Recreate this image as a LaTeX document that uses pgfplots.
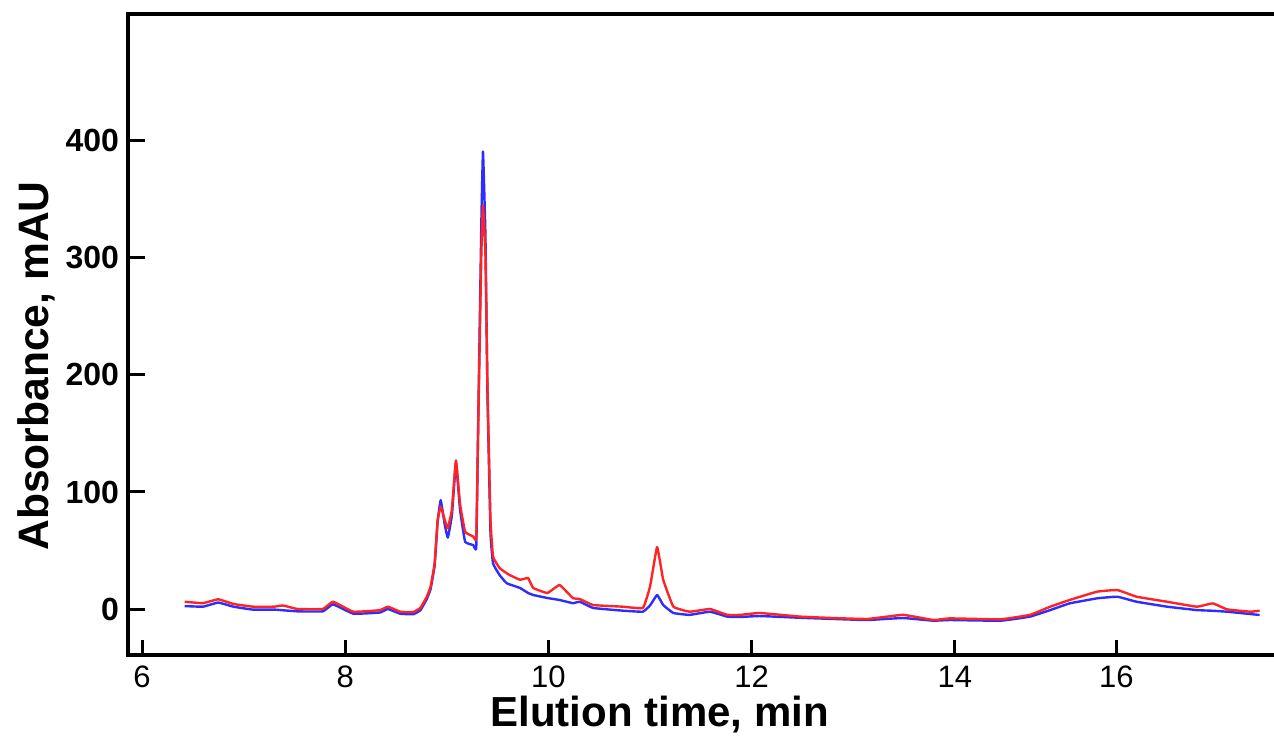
\documentclass[border=0pt]{standalone}
\usepackage{pgfplots}
\pgfplotsset{compat=1.18}
\usepackage{fontspec}
\setmainfont{Liberation Sans}

\definecolor{trBlue}{RGB}{45,45,255}
\definecolor{trRed}{RGB}{255,35,35}

\begin{document}
\begin{tikzpicture}
\useasboundingbox (0,0) rectangle (637pt,374.5pt);
\begin{axis}[
    at={(64pt,47pt)}, anchor=south west,
    width=573pt, height=320.5pt, scale only axis,
    xmin=5.862, xmax=17.142,
    ymin=-39.3, ymax=508.5,
    axis lines*=left,
    axis line style={line width=2pt, line cap=rect},
    clip=false,
    tick align=inside,
    xtick={6,8,10,12,14,15.59},
    xticklabels={6,8,10,12,14,16},
    ytick={0,100,200,300,400},
    x tick style={line width=1.5pt, black},
    y tick style={line width=1.5pt, black},
    xtick style={/pgfplots/major tick length=7.5pt},
    ytick style={/pgfplots/major tick length=8.5pt},
    /pgf/number format/assume math mode=true,
    x tick label style={font=\fontsize{15.5}{16}\selectfont, yshift=-2pt},
    y tick label style={font=\bfseries\fontsize{16}{17}\selectfont, xshift=-1pt},
    xlabel={Elution time, min},
    ylabel={Absorbance, mAU},
    every axis x label/.style={at={(axis description cs:0.464,-0.1123)}, anchor=base,
        font=\bfseries\fontsize{21}{24}\selectfont},
    every axis y label/.style={at={(axis description cs:-0.0698,0.451)}, anchor=base, rotate=90,
        font=\bfseries\fontsize{21.3}{24}\selectfont},
]
% top frame line
\draw[line width=2pt] (rel axis cs:0,1) -- (rel axis cs:1,1);

\addplot[color=trBlue, line width=1.2pt, line join=round, smooth, tension=0.18] coordinates {
(6.42,2.5)(6.60,2)(6.75,5.5)(6.90,2)(7.09,-0.5)(7.30,-0.5)(7.53,-2)(7.78,-2)
(7.88,4)(8.08,-4)(8.34,-3)(8.42,0)(8.54,-4)(8.67,-4.5)(8.74,-1)(8.80,8)
(8.84,17)(8.88,37)(8.91,75)(8.94,93)(8.98,72)(9.01,61)(9.05,80)(9.09,125)
(9.13,85)(9.18,57.5)(9.26,54.7)(9.29,53)(9.31,165)(9.34,330)(9.356,391)(9.38,320)
(9.40,185)(9.43,65)(9.455,39)(9.52,29)(9.59,22)(9.72,18)(9.80,13.7)(9.85,12)
(9.99,9.4)(10.11,7.7)(10.24,5)(10.31,6.2)(10.44,0.9)(10.73,-1.4)(10.93,-2.3)(11.00,3)
(11.07,12)(11.13,3.4)(11.23,-3.4)(11.39,-5)(11.59,-2.3)(11.76,-6.5)(11.89,-6.8)(12.08,-6)
(12.48,-7.5)(12.80,-8.5)(13.14,-9.4)(13.49,-7.7)(13.79,-10)(13.95,-9.4)(14.45,-10)(14.74,-6.5)
(14.94,-0.9)(15.13,4.8)(15.40,9.1)(15.60,10.5)(15.79,6.2)(16.09,2)(16.38,-0.9)(16.54,-1.5)
(16.68,-2.3)(16.91,-4.3)(17.00,-5.1)
};

\addplot[color=trRed, line width=1.2pt, line join=round, smooth, tension=0.18] coordinates {
(6.42,6.2)(6.60,5)(6.75,8.3)(6.90,4.3)(7.09,2)(7.30,2)(7.39,3)(7.53,0)
(7.78,0)(7.88,6.2)(8.08,-2.3)(8.34,-1)(8.42,2)(8.54,-2.3)(8.67,-2.6)(8.74,1)
(8.80,10)(8.84,19)(8.88,39)(8.91,76)(8.94,87.5)(8.98,76)(9.01,69)(9.05,85)
(9.09,127)(9.13,90)(9.18,66)(9.26,62)(9.29,61)(9.31,161)(9.34,304)(9.356,345)
(9.38,304)(9.40,190)(9.43,76)(9.455,44.7)(9.52,35)(9.59,30.5)(9.62,29)(9.72,25)
(9.80,26.5)(9.85,18)(9.99,13.7)(10.11,20.5)(10.24,9.4)(10.31,8.5)(10.44,3.4)(10.73,2)
(10.93,0.9)(11.00,19)(11.07,53)(11.13,25)(11.23,2)(11.39,-2.3)(11.59,0)(11.76,-5)
(11.89,-5)(12.08,-3.4)(12.48,-6.5)(12.80,-7.7)(13.14,-8.5)(13.49,-5)(13.79,-9.4)(13.95,-8)
(14.45,-8.8)(14.74,-5)(14.94,2)(15.13,7.7)(15.40,14.8)(15.60,16.2)(15.79,10.5)(16.09,6.2)
(16.38,2)(16.54,4.8)(16.68,-0.3)(16.91,-2.3)(17.00,-1.4)
};
\end{axis}
\end{tikzpicture}
\end{document}
